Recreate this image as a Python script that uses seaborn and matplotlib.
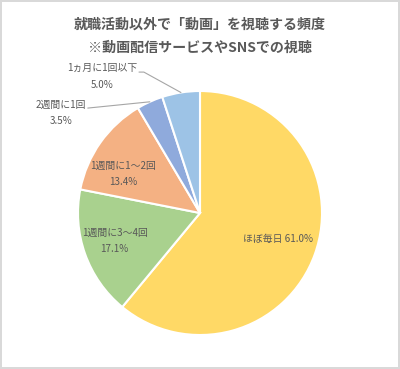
import numpy as np
import matplotlib.pyplot as plt
import seaborn as sns

# data
categories = ['ほぼ毎日', '1週間に3～4回', '1週間に1～2回', '2週間に1回', '1ヵ月に1回以下']
shares = [61.0, 17.1, 13.4, 3.5, 5.0]
colors = ['#FFD966', '#A9D18E', '#F4B183', '#8FAADC', '#9DC3E6']
title = '就職活動以外で「動画」を視聴する頻度\n※動画配信サービスやSNSでの視聴'

sns.set_theme(style='white')
plt.rcParams['font.family'] = ['Noto Sans CJK JP', 'DejaVu Sans']

fig = plt.figure(figsize=(4.0, 3.69), dpi=100)
fig.patch.set_edgecolor('#d9d9d9')
fig.patch.set_linewidth(1.5)

# axes placed so the pie centre sits at (200, 213) px, radius 122 px
W, H, R = 400, 369, 122
cx, cy = 200, 213
ax = fig.add_axes([(cx - R) / W, (H - cy - R) / H, 2 * R / W, 2 * R / H])

wedges, _ = ax.pie(shares, colors=colors, startangle=90, counterclock=False,
                   radius=1, wedgeprops=dict(edgecolor='white', linewidth=1.5))
ax.set_xlim(-1, 1)
ax.set_ylim(-1, 1)
ax.set_aspect('equal')
ax.axis('off')

txt = '#595959'
fs = 7.1
# label layout (data units, pie radius = 1)
label_pos = [(0.64, -0.21), (-0.70, -0.23), (-0.63, 0.32), (-1.14, 0.82), (-0.80, 1.12)]
for i, (w, cat, val) in enumerate(zip(wedges, categories, shares)):
    x, y = label_pos[i]
    if i == 0:
        ax.text(x, y, f'{cat} {val:.1f}%', ha='center', va='center',
                fontsize=fs, color=txt)
    else:
        ax.text(x, y, f'{cat}\n{val:.1f}%', ha='center', va='center',
                fontsize=fs, color=txt, linespacing=1.8)

# leader lines for the two small slices
for i, start in [(3, (-0.92, 0.86)), (4, (-0.50, 1.155))]:
    w = wedges[i]
    mid = np.deg2rad((w.theta1 + w.theta2) / 2)
    ex, ey = np.cos(mid), np.sin(mid)
    if i == 4:
        xs = [start[0], start[0] + 0.04, ex]
        ys = [start[1], start[1], ey]
    else:
        xs = [start[0], ex]
        ys = [start[1], ey]
    ax.plot(xs, ys, color='#a6a6a6', linewidth=0.8, clip_on=False)

fig.text(0.5, 1 - 36 / H, title, ha='center', va='center', fontsize=10.1,
         fontweight='bold', color=txt, linespacing=1.8)

fig.savefig('out.png', dpi=100)
